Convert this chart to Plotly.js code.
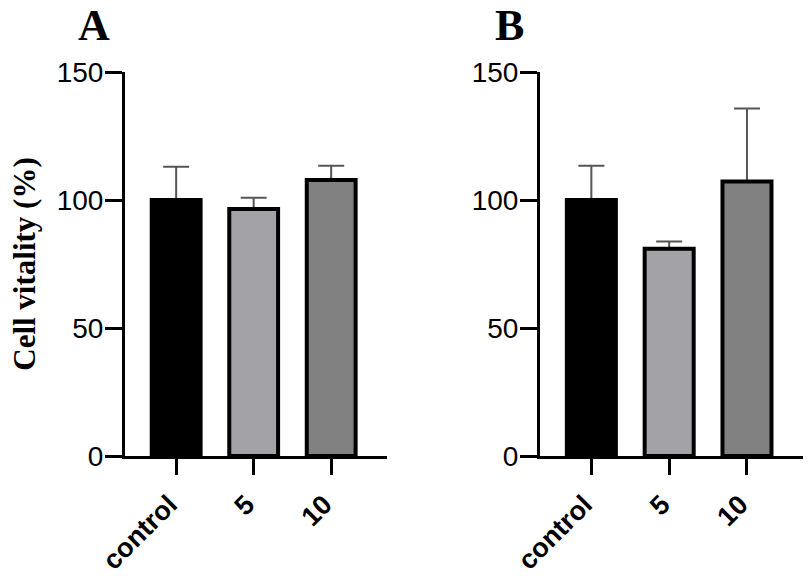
<!DOCTYPE html>
<html>
<head>
<meta charset="utf-8">
<script src="https://cdn.plot.ly/plotly-3.0.1.min.js"></script>
<style>
  html, body { margin: 0; padding: 0; background: #fff; }
  #cell_plot { width: 811px; height: 582px; }
</style>
</head>
<body>
<div id="cell_plot"></div>
<script>
const groups = ["control", "5", "10"];
const bar_colors = ["#000000", "#a3a3a7", "#818181"];

// panel A
const mean_a = [100, 96.5, 107.8];
const sd_a = [13, 4.4, 5.6];

// panel B
const mean_b = [100, 81, 107.2];
const sd_b = [13.4, 2.8, 28.5];

const y_ticks = [0, 50, 100, 150];
const panel_labels = ["A", "B"];

const bar_width = 0.63;
const err_style = {type: "data", symmetric: true, color: "#555555", thickness: 2, width: 13};
const x_tick_font = {family: "Liberation Sans, Arial", size: 27, weight: "bold", color: "#000"};
const y_tick_font = {family: "Liberation Sans, Arial", size: 28, color: "#000"};

/* error bars go in a hidden bar trace drawn first, so the real bar covers the lower half */
function panel_traces(means, sds, xa, ya)
{
    const err_trace = {
        type: "bar", x: groups, y: means, xaxis: xa, yaxis: ya, width: bar_width,
        marker: {color: "rgba(0,0,0,0)", line: {width: 0}},
        error_y: Object.assign({array: sds}, err_style),
        hoverinfo: "skip", showlegend: false
    };
    const bar_trace = {
        type: "bar", x: groups, y: means, xaxis: xa, yaxis: ya, width: bar_width,
        marker: {color: bar_colors, line: {color: "#000000", width: 4}},
        showlegend: false
    };
    return [err_trace, bar_trace];
}

function x_axis(dom, anchor)
{
    return {
        domain: dom, anchor: anchor, type: "category", range: [-0.66, 2.72],
        showline: true, linecolor: "#000", linewidth: 3,
        ticks: "outside", ticklen: 16, tickwidth: 3, tickcolor: "#000",
        tickangle: -45, tickfont: x_tick_font,
        ticklabelshift: -7, ticklabelstandoff: 3,
        showgrid: false, zeroline: false, fixedrange: true
    };
}

function y_axis(anchor, title)
{
    const ax = {
        anchor: anchor, domain: [0, 1], range: [0, 150],
        tickmode: "array", tickvals: y_ticks, ticktext: y_ticks.map(String),
        showline: true, linecolor: "#000", linewidth: 3,
        ticks: "outside", ticklen: 17, tickwidth: 3, tickcolor: "#000",
        ticklabelstandoff: -4,
        tickfont: y_tick_font,
        showgrid: false, zeroline: false, fixedrange: true
    };
    if (title) {
        ax.title = {text: title, standoff: 12,
                    font: {family: "Liberation Serif, Times New Roman", size: 31, weight: "bold", color: "#000"}};
    }
    return ax;
}

const data = panel_traces(mean_a, sd_a, "x", "y").concat(panel_traces(mean_b, sd_b, "x2", "y2"));

const label_font = {family: "Liberation Serif, Times New Roman", size: 44, weight: "bold", color: "#000"};
const layout = {
    width: 811, height: 582,
    margin: {l: 0, r: 0, t: 72, b: 126},
    paper_bgcolor: "#fff", plot_bgcolor: "#fff",
    barmode: "overlay",
    showlegend: false,
    xaxis: x_axis([125 / 811, 387 / 811], "y"),
    yaxis: y_axis("x", "Cell vitality (%)"),
    xaxis2: x_axis([540 / 811, 803 / 811], "y2"),
    yaxis2: y_axis("x2", null),
    annotations: [
        {text: panel_labels[0], xref: "paper", yref: "paper", x: 94 / 811, y: 1.12,
         xanchor: "center", yanchor: "middle", showarrow: false, font: label_font},
        {text: panel_labels[1], xref: "paper", yref: "paper", x: 509 / 811, y: 1.12,
         xanchor: "center", yanchor: "middle", showarrow: false, font: label_font}
    ]
};

Plotly.newPlot("cell_plot", data, layout, {displayModeBar: false, staticPlot: true});
</script>
</body>
</html>
